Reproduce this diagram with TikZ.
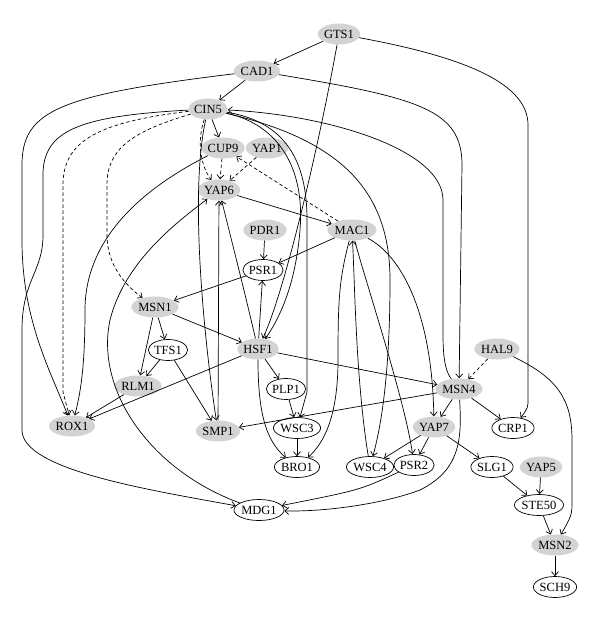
\documentclass[tikz,border=0pt]{standalone}
\usepackage{fontspec}
\setmainfont{Liberation Serif}
\usetikzlibrary{shapes.geometric,arrows.meta}
\definecolor{nodegray}{RGB}{211,211,211}
\tikzset{
  gnode/.style={ellipse,fill=nodegray,inner xsep=0pt,inner ysep=1pt,minimum height=21pt,font=\fontsize{12.5}{14}\selectfont},
  wnode/.style={ellipse,draw,line width=0.7pt,fill=white,inner xsep=0pt,inner ysep=1pt,minimum height=21pt,font=\fontsize{12.5}{14}\selectfont},
  edge/.style={-{Straight Barb[length=4pt,width=7pt]},line width=0.7pt},
  dedge/.style={edge,dash pattern=on 3.5pt off 2.5pt}
}
\begin{document}
\begin{tikzpicture}[x=1pt,y=-1pt]
\useasboundingbox (0,0) rectangle (600,621);
% nodes
\node[gnode] (GTS1) at (339,34) {GTS1};
\node[gnode] (CAD1) at (257,71) {CAD1};
\node[gnode] (CIN5) at (208,109) {CIN5};
\node[gnode] (CUP9) at (223,148) {CUP9};
\node[gnode] (YAP1) at (267,148) {YAP1};
\node[gnode] (YAP6) at (219,190) {YAP6};
\node[gnode] (PDR1) at (265,230) {PDR1};
\node[gnode] (MAC1) at (352,230) {MAC1};
\node[wnode] (PSR1) at (263,270) {PSR1};
\node[gnode] (MSN1) at (155,307) {MSN1};
\node[wnode] (TFS1) at (168,350) {TFS1};
\node[gnode] (HSF1) at (258,349) {HSF1};
\node[gnode] (HAL9) at (497,349) {HAL9};
\node[gnode] (RLM1) at (138,386) {RLM1};
\node[wnode] (PLP1) at (286,389) {PLP1};
\node[gnode] (MSN4) at (459,389) {MSN4};
\node[gnode] (ROX1) at (72,426) {ROX1};
\node[gnode] (SMP1) at (218,431) {SMP1};
\node[wnode] (WSC3) at (297,428) {WSC3};
\node[gnode] (YAP7) at (434,427) {YAP7};
\node[wnode] (CRP1) at (513,428) {CRP1};
\node[wnode] (BRO1) at (297,467) {BRO1};
\node[wnode] (WSC4) at (370,467) {WSC4};
\node[wnode] (PSR2) at (414,465) {PSR2};
\node[wnode] (SLG1) at (492,467) {SLG1};
\node[gnode] (YAP5) at (541,467) {YAP5};
\node[wnode] (STE50) at (539,505) {STE50};
\node[wnode] (MDG1) at (259,510) {MDG1};
\node[gnode] (MSN2) at (555,545) {MSN2};
\node[wnode] (SCH9) at (555,587) {SCH9};
% edges
\draw[edge] (GTS1) -- (CAD1);
\draw[edge] (GTS1) .. controls (318,150) and (285,290) .. (HSF1);
\draw[edge] (GTS1) .. controls (470,58) and (528,85) .. (528,125) -- (528,398) .. controls (528,408) .. (CRP1);
\draw[edge] (CAD1) -- (CIN5);
\draw[edge] (CAD1) .. controls (60,95) and (22,110) .. (22,165) -- (22,240) .. controls (22,320) and (50,370) .. (ROX1);
\draw[edge] (CAD1) .. controls (420,98) and (462,110) .. (462,165) -- (MSN4);
\draw[edge] (MSN4) .. controls (446,372) and (443,360) .. (443,335) -- (443,200) .. controls (443,150) and (330,115) .. (CIN5);
\draw[edge] (CIN5) -- (CUP9);
\draw[dedge] (CIN5) .. controls (197,140) and (200,165) .. (YAP6);
\draw[edge] (CIN5) .. controls (188,200) and (207,360) .. (SMP1);
\draw[dedge] (CIN5) .. controls (100,122) and (63,140) .. (63,185) -- (63,392) -- (ROX1);
\draw[dedge] (CIN5) .. controls (130,132) and (107,150) .. (107,185) -- (107,235) .. controls (107,265) and (125,285) .. (MSN1);
\draw[edge] (CIN5) .. controls (80,116) and (43,130) .. (43,175) -- (43,235) .. controls (43,272) and (22,280) .. (22,330) -- (22,430) .. controls (22,470) and (150,490) .. (MDG1);
\draw[edge] (CIN5) .. controls (285,122) and (307,160) .. (307,220) -- (307,392) -- (WSC3);
\draw[edge] (CIN5) .. controls (340,140) and (390,190) .. (390,280) .. controls (390,380) and (380,430) .. (WSC4);
\draw[edge] (CIN5) .. controls (280,125) and (305,170) .. (300,230) .. controls (296,280) and (282,315) .. (HSF1);
\draw[dedge] (CUP9) -- (YAP6);
\draw[dedge] (YAP1) -- (YAP6);
\draw[edge] (CUP9) .. controls (140,190) and (85,240) .. (85,310) .. controls (85,370) and (80,395) .. (ROX1);
\draw[edge] (MDG1) .. controls (150,470) and (95,390) .. (110,320) .. controls (125,260) and (180,220) .. (YAP6);
\draw[edge] (YAP6) -- (MAC1);
\draw[dedge] (MAC1) -- (CUP9);
\draw[edge] (MAC1) -- (PSR1);
\draw[edge] (PDR1) -- (PSR1);
\draw[edge] (PSR1) -- (MSN1);
\draw[edge] (HSF1) -- (PSR1);
\draw[edge] (HSF1) .. controls (244,290) .. (YAP6);
\draw[edge] (SMP1) -- (YAP6);
\draw[edge] (MSN1) -- (TFS1);
\draw[edge] (MSN1) -- (RLM1);
\draw[edge] (MSN1) -- (HSF1);
\draw[edge] (TFS1) -- (RLM1);
\draw[edge] (TFS1) -- (SMP1);
\draw[edge] (RLM1) -- (ROX1);
\draw[edge] (HSF1) -- (ROX1);
\draw[edge] (HSF1) -- (PLP1);
\draw[edge] (HSF1) .. controls (258,410) and (265,440) .. (BRO1);
\draw[edge] (HSF1) -- (MSN4);
\draw[edge] (PLP1) -- (WSC3);
\draw[edge] (WSC3) -- (BRO1);
\draw[edge] (MAC1) .. controls (339,280) and (338,300) .. (338,360) .. controls (338,420) and (322,445) .. (BRO1);
\draw[edge] (WSC4) .. controls (356,380) and (355,290) .. (MAC1);
\draw[edge] (MAC1) .. controls (365,280) and (405,400) .. (PSR2);
\draw[edge] (MAC1) .. controls (400,255) and (432,310) .. (YAP7);
\draw[edge] (MSN4) -- (SMP1);
\draw[edge] (MSN4) -- (YAP7);
\draw[edge] (MSN4) -- (CRP1);
\draw[edge] (MSN4) .. controls (462,440) and (460,470) .. (420,490) .. controls (380,505) and (320,512) .. (MDG1);
\draw[edge] (PSR2) .. controls (360,490) .. (MDG1);
\draw[edge] (YAP7) -- (WSC4);
\draw[edge] (YAP7) -- (PSR2);
\draw[edge] (YAP7) -- (SLG1);
\draw[dedge] (HAL9) -- (MSN4);
\draw[edge] (HAL9) .. controls (558,378) and (572,400) .. (572,440) -- (572,500) .. controls (572,515) .. (MSN2);
\draw[edge] (SLG1) -- (STE50);
\draw[edge] (YAP5) -- (STE50);
\draw[edge] (STE50) -- (MSN2);
\draw[edge] (MSN2) -- (SCH9);
\end{tikzpicture}
\end{document}
